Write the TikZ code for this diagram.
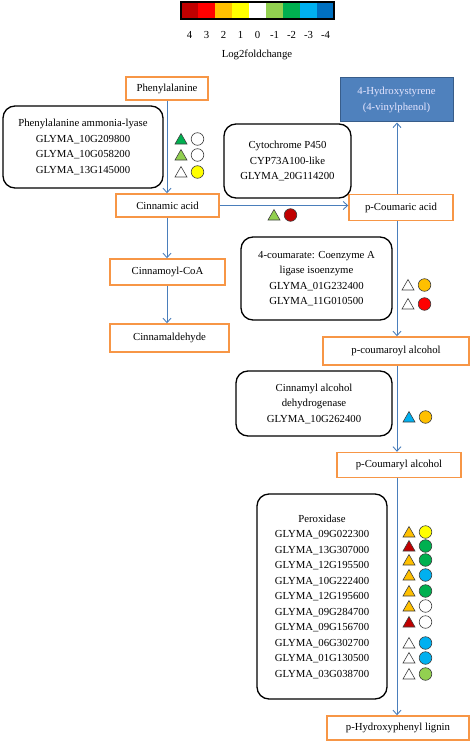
\documentclass[tikz,border=0pt]{standalone}
\usepackage{fontspec}
\setmainfont{Liberation Serif}
\usetikzlibrary{arrows.meta}
\definecolor{cdr}{HTML}{C00000}
\definecolor{cr}{HTML}{FF0000}
\definecolor{co}{HTML}{FFC000}
\definecolor{cy}{HTML}{FFFF00}
\definecolor{clg}{HTML}{92D050}
\definecolor{cg}{HTML}{00B050}
\definecolor{clb}{HTML}{00B0F0}
\definecolor{cb}{HTML}{0070C0}
\definecolor{boxorange}{HTML}{F79646}
\definecolor{arrowblue}{HTML}{4A7EBB}
\definecolor{hsfill}{HTML}{4F81BD}
\definecolor{hsdraw}{HTML}{385D8A}
\newcommand\fcpair[4]{%
  \draw[symline, fill=#3] (#1-6,#2+5) -- (#1+6,#2+5) -- (#1,#2-5.5) -- cycle;
  \draw[symline, fill=#4] (#1+16.5,#2) circle[radius=6.3pt];}
\begin{document}
\begin{tikzpicture}[x=1pt,y=-1pt,
  txt/.style={font=\fontsize{10.75}{15.5}\selectfont},
  metab/.style={draw=boxorange, line width=1.4pt, fill=white, inner sep=0pt, txt},
  enz/.style={draw=black, line width=1.3pt, rounded corners=12pt, align=center, inner sep=0pt, txt},
  flow/.style={draw=arrowblue, line width=0.9pt, -{Straight Barb[length=4.5pt,width=8pt]}},
  symline/.style={draw=black!75, line width=0.6pt}]
\useasboundingbox (0,0) rectangle (472,741);
% legend
\foreach \c [count=\i from 0] in {cdr,cr,co,cy,white,clg,cg,clb,cb}{
  \fill[\c] (181+17*\i,2) rectangle (198+17*\i,19);
}
\draw[line width=1.4pt] (181,2) rectangle (334,19);
\foreach \t [count=\i from 0] in {4,3,2,1,0,-1,-2,-3,-4}{
  \node[txt, inner sep=0pt] (lg\i) at (189.5+17*\i,35) {\t};
}
\node[txt, inner sep=0pt] (lgl) at (257,55) {Log2foldchange};
% metabolites
\node[metab, minimum width=82pt, minimum height=23pt] (phe) at (167,88.5) {Phenylalanine};
\node[metab, minimum width=103pt, minimum height=23pt] (cin) at (167.5,205.5) {Cinnamic acid};
\node[metab, minimum width=115pt, minimum height=26pt] (coa) at (167.5,272) {Cinnamoyl-CoA};
\node[metab, minimum width=119pt, minimum height=28pt] (ald) at (169.5,338) {Cinnamaldehyde};
\node[metab, minimum width=104pt, minimum height=26pt] (pca) at (401,207.5) {p-Coumaric acid};
\node[draw=hsdraw, fill=hsfill, line width=1pt, minimum width=113pt, minimum height=44pt, inner sep=0pt, align=center, text=white!90!blue, txt] (hs) at (396.5,100) {4-Hydroxystyrene\\(4-vinylphenol)};
\node[metab, minimum width=146pt, minimum height=28pt] (pco) at (396,351) {p-coumaroyl alcohol};
\node[metab, minimum width=124pt, minimum height=25pt] (pcy) at (399,465) {p-Coumaryl alcohol};
\node[metab, minimum width=142pt, minimum height=24pt] (lig) at (398,728) {p-Hydroxyphenyl lignin};
% enzymes
\node[enz, minimum width=160pt, minimum height=82pt] (pal) at (83,147) {Phenylalanine ammonia-lyase\\GLYMA\_10G209800\\GLYMA\_10G058200\\GLYMA\_13G145000};
\node[enz, minimum width=127pt, minimum height=74pt] (cyp) at (287.5,161) {Cytochrome P450\\CYP73A100-like\\GLYMA\_20G114200};
\node[enz, minimum width=151pt, minimum height=83pt] (cl) at (316.5,278.5) {4-coumarate: Coenzyme A\\ligase isoenzyme\\GLYMA\_01G232400\\GLYMA\_11G010500};
\node[enz, minimum width=156pt, minimum height=65pt] (cad) at (314,403.5) {Cinnamyl alcohol\\dehydrogenase\\GLYMA\_10G262400};
\node[enz, minimum width=130pt, minimum height=205pt] (pox) at (322,596.5) {Peroxidase\\GLYMA\_09G022300\\GLYMA\_13G307000\\GLYMA\_12G195500\\GLYMA\_10G222400\\GLYMA\_12G195600\\GLYMA\_09G284700\\GLYMA\_09G156700\\GLYMA\_06G302700\\GLYMA\_01G130500\\GLYMA\_03G038700};
% connectors
\coordinate (colL) at (167,0);
\coordinate (colR) at (397,0);
\draw[flow] (phe.south -| colL) -- (cin.north -| colL);
\draw[flow] (cin.south -| colL) -- (coa.north -| colL);
\draw[flow] (coa.south -| colL) -- (ald.north -| colL);
\draw[flow] (cin.east) -- (cin.east -| pca.west);
\draw[flow] (pca.north -| colR) -- (hs.south -| colR);
\draw[flow] (pca.south -| colR) -- (pco.north -| colR);
\draw[flow] (pco.south -| colR) -- (pcy.north -| colR);
\draw[flow] (pcy.south -| colR) -- (lig.north -| colR);
% fold-change symbols
\fcpair{181}{139}{cg}{white}
\fcpair{181}{155}{clg}{white}
\fcpair{181}{172}{white}{cy}
\fcpair{274}{215}{clg}{cdr}
\fcpair{408}{285}{white}{co}
\fcpair{408}{304}{white}{cr}
\fcpair{409}{417}{clb}{co}
\fcpair{409}{532}{co}{cy}
\fcpair{409}{546}{cdr}{cg}
\fcpair{409}{560}{co}{cg}
\fcpair{409}{575}{co}{clb}
\fcpair{409}{591}{co}{cg}
\fcpair{409}{606}{co}{white}
\fcpair{409}{622}{cdr}{white}
\fcpair{409}{643}{white}{clb}
\fcpair{409}{658}{white}{clb}
\fcpair{409}{674}{white}{clg}
\end{tikzpicture}
\end{document}
